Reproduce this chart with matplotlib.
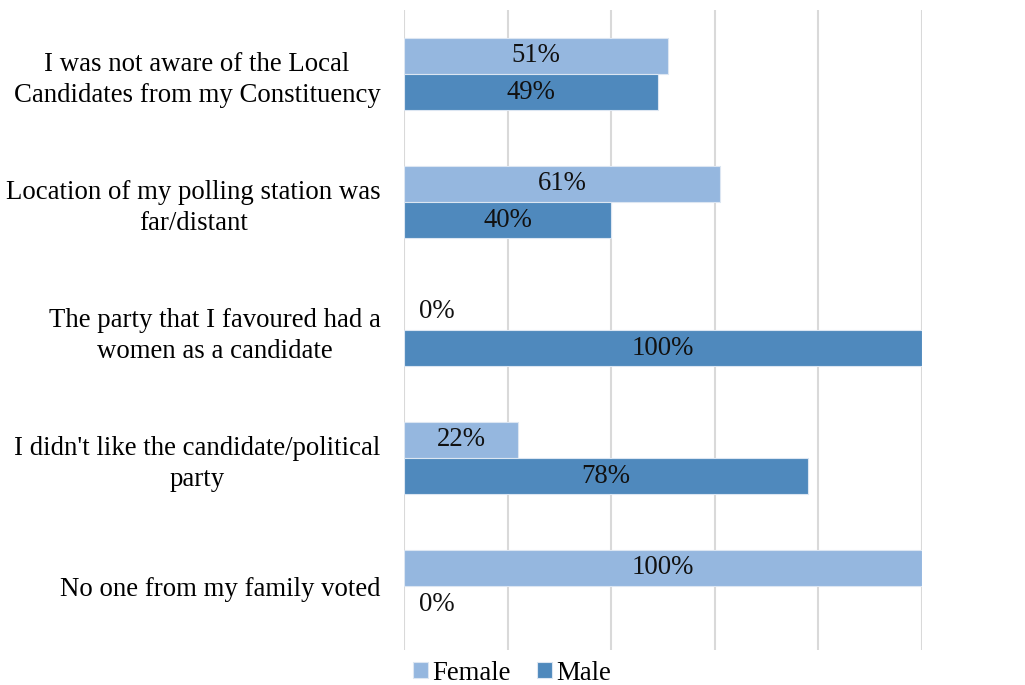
import matplotlib
matplotlib.use("Agg")
import matplotlib.pyplot as plt
import numpy as np

categories = [
    "I was not aware of the Local\nCandidates from my Constituency",
    "Location of my polling station was\nfar/distant",
    "The party that I favoured had a\nwomen as a candidate",
    "I didn't like the candidate/political\nparty",
    "No one from my family voted",
]
female = [51, 61, 0, 22, 100]
male = [49, 40, 100, 78, 0]

female_color = "#95B7DF"
male_color = "#4F89BD"

plt.rcParams["font.family"] = ["Liberation Serif", "DejaVu Serif"]
fs = 19.3

fig = plt.figure(figsize=(10.25, 6.85), dpi=100)
ax = fig.add_axes([404 / 1025, 35 / 685, (922 - 404) / 1025, 640 / 685])

y = np.arange(len(categories))
h = 0.285
fb = ax.barh(y - h / 2, female, height=h, color=female_color, edgecolor="#DCE6F2",
             linewidth=[0.8 if v > 0 else 0 for v in female], label="Female", zorder=2)
mb = ax.barh(y + h / 2, male, height=h, color=male_color, edgecolor="#DCE6F2",
             linewidth=[0.8 if v > 0 else 0 for v in male], label="Male", zorder=2)

for bars, vals in ((fb, female), (mb, male)):
    for b, v in zip(bars, vals):
        cy = b.get_y() + b.get_height() / 2
        x = v / 2 if v > 0 else 6.3
        ax.text(x, cy, f"{v}%", ha="center", va="center", fontsize=fs, color="#111111", zorder=3)

ax.set_xlim(0, 100)
ax.set_ylim(len(categories) - 0.5, -0.5)
ax.set_xticks([0, 20, 40, 60, 80, 100])
ax.set_xticklabels([])
ax.tick_params(axis="x", length=0)
ax.tick_params(axis="y", length=0, pad=17)
ax.set_yticks(y)
ax.set_yticklabels(categories, fontsize=fs, ha="right", multialignment="center", linespacing=1.3)
ax.grid(axis="x", color="#D9D9D9", linewidth=1.5, zorder=0)
for s in ax.spines.values():
    s.set_visible(False)

fig.legend(handles=[fb, mb], labels=["Female", "Male"], loc="center", bbox_to_anchor=(512 / 1025, 1 - 673 / 685),
           ncol=2, frameon=False, fontsize=fs, handlelength=0.55, handleheight=0.55, handletextpad=0.15,
           columnspacing=1.0, borderaxespad=0)

fig.savefig("out.png", dpi=100, facecolor="white")
